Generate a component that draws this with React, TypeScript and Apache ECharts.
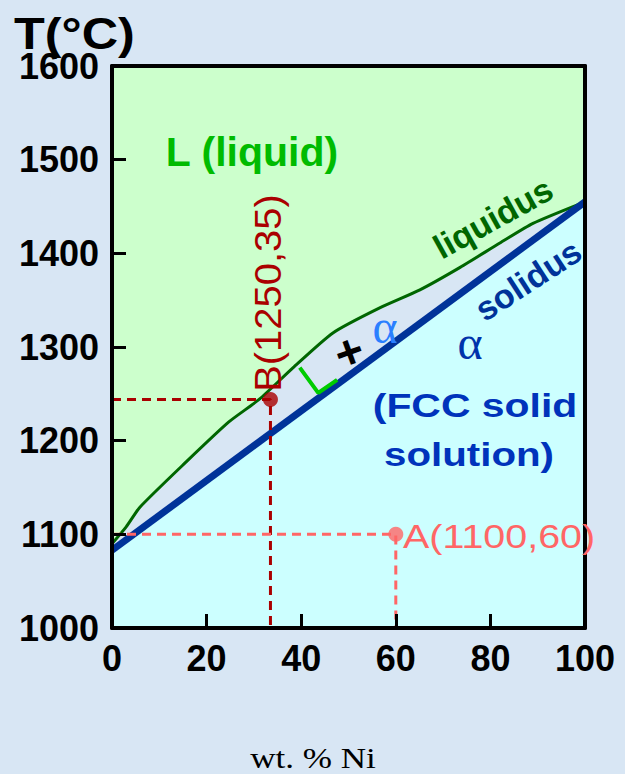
import React, { useEffect, useRef } from "react";
import * as echarts from "echarts";

const xTicks = [0, 20, 40, 60, 80, 100];
const yTicks = [1000, 1100, 1200, 1300, 1400, 1500, 1600];

// liquidus curve (wt.% Ni, °C)
const liquidus: [number, number][] = [
  [0, 1090], [3, 1108], [5.9, 1129], [15.4, 1176], [24.7, 1220], [31.1, 1244],
  [38.3, 1278], [46.7, 1315], [56.7, 1342], [65.1, 1361], [73.6, 1385],
  [82.0, 1411], [89.0, 1432], [100, 1455],
];
// solidus (straight)
const solidus: [number, number][] = [[0, 1083], [100, 1455]];

// point B and A
const pointB: [number, number] = [33.5, 1244];
const pointA: [number, number] = [60, 1100];
const bGuide: [number, number][] = [[0, 1244], [33.5, 1244], [33.5, 1000]];
const aGuide: [number, number][] = [[0, 1100], [60, 1100], [60, 1000]];
// green tie-line marker
const tieMark: [number, number][] = [[39.7, 1278], [43.6, 1251], [47.6, 1265]];

const SANS = "Liberation Sans";
const SERIF = "Liberation Serif";

export default function App() {
  const ref = useRef<HTMLDivElement>(null);
  useEffect(() => {
    const chart = echarts.init(ref.current!, null, { renderer: "svg" });
    const axisLabel = {
      color: "#000",
      fontFamily: SANS,
      fontWeight: "bold" as const,
      fontSize: 36,
      formatter: (v: number) => String(v),
    };
    const txt = (
      text: string,
      x: number,
      y: number,
      size: number,
      fill: string,
      opts: any = {}
    ) => ({
      type: "text",
      x,
      y,
      z: 20,
      scaleX: opts.scaleX ?? 1,
      rotation: opts.rotation ?? 0,
      style: {
        text,
        fontFamily: opts.family ?? SANS,
        fontWeight: opts.weight ?? "bold",
        fontStyle: opts.style ?? "normal",
        fontSize: size,
        fill,
        align: opts.align ?? "center",
        verticalAlign: "middle",
      },
    });
    chart.setOption({
      animation: false,
      backgroundColor: "#d8e6f4",
      grid: { left: 112, right: 40, top: 66, bottom: 146 },
      xAxis: [
        {
          type: "value",
          min: 0,
          max: 100,
          interval: 20,
          z: 10,
          axisLine: { show: true, lineStyle: { color: "#000", width: 4 } },
          axisTick: { show: true, inside: true, length: 14, lineStyle: { color: "#000", width: 3 } },
          splitLine: { show: false },
          axisLabel: { ...axisLabel, margin: 12 },
        },
        {
          type: "value",
          position: "top",
          min: 0,
          max: 100,
          z: 10,
          axisLine: { show: true, onZero: false, lineStyle: { color: "#000", width: 4 } },
          axisTick: { show: false },
          axisLabel: { show: false },
          splitLine: { show: false },
        },
      ],
      yAxis: [
        {
          type: "value",
          min: 1000,
          max: 1600,
          interval: 100,
          z: 10,
          axisLine: { show: true, lineStyle: { color: "#000", width: 4 } },
          axisTick: { show: true, inside: true, length: 14, lineStyle: { color: "#000", width: 3 } },
          splitLine: { show: false },
          axisLabel: { ...axisLabel, margin: 13 },
        },
        {
          type: "value",
          position: "right",
          min: 1000,
          max: 1600,
          z: 10,
          axisLine: { show: true, onZero: false, lineStyle: { color: "#000", width: 4 } },
          axisTick: { show: false },
          axisLabel: { show: false },
          splitLine: { show: false },
        },
      ],
      series: [
        {
          type: "line",
          data: liquidus,
          symbol: "none",
          smooth: 0.2,
          z: 2,
          lineStyle: { color: "#006600", width: 3 },
          areaStyle: { color: "#ccffcc", origin: "end", opacity: 1 },
        },
        {
          type: "line",
          data: solidus,
          symbol: "none",
          z: 3,
          lineStyle: { color: "#003399", width: 7 },
          areaStyle: { color: "#ccffff", origin: "start", opacity: 1 },
        },
        {
          type: "line",
          data: tieMark,
          symbol: "none",
          z: 4,
          lineStyle: { color: "#00cc00", width: 4 },
        },
        {
          type: "line",
          data: bGuide,
          symbol: "none",
          z: 4,
          lineStyle: { color: "#aa0000", width: 3, type: [9, 6] },
        },
        {
          type: "line",
          data: aGuide,
          symbol: "none",
          z: 4,
          lineStyle: { color: "#ff6666", width: 3, type: [9, 6] },
        },
        {
          type: "scatter",
          data: [pointB],
          symbolSize: 15,
          z: 5,
          itemStyle: { color: "#aa0000" },
        },
        {
          type: "scatter",
          data: [pointA],
          symbolSize: 15,
          z: 5,
          itemStyle: { color: "#ff6666" },
        },
      ],
      graphic: [
        txt("T(°C)", 14, 33, 45, "#000", { align: "left", scaleX: 1.12 }),
        txt("L (liquid)", 252, 152, 41, "#00bb00"),
        txt("liquidus", 493, 218, 34, "#006600", { rotation: (29 * Math.PI) / 180 }),
        txt("solidus", 528, 280, 34, "#003399", { rotation: (33 * Math.PI) / 180 }),
        txt("α", 385, 326, 48, "#2a7fff", { family: SERIF, weight: "normal" }),
        txt("α", 470, 342, 48, "#0033aa", { family: SERIF, weight: "normal" }),
        txt("+", 349, 352, 48, "#000", { rotation: (20 * Math.PI) / 180 }),
        txt("(FCC solid", 475, 405, 33, "#0033bb", { scaleX: 1.24 }),
        txt("solution)", 469, 455, 33, "#0033bb", { scaleX: 1.22 }),
        txt("B(1250,35)", 268, 293, 37, "#aa0000", {
          weight: "normal",
          rotation: Math.PI / 2,
          scaleX: 1.08,
        }),
        txt("A(1100,60)", 403, 536, 34, "#ff6666", {
          weight: "normal",
          align: "left",
          scaleX: 1.16,
        }),
        txt("wt. % Ni", 313, 758, 30, "#000", { family: SERIF, weight: "normal", scaleX: 1.17 }),
      ],
    });
    return () => chart.dispose();
  }, []);
  return (
    <div
      ref={ref}
      style={{ position: "absolute", left: 0, top: 0, width: 625, height: 774 }}
    />
  );
}
